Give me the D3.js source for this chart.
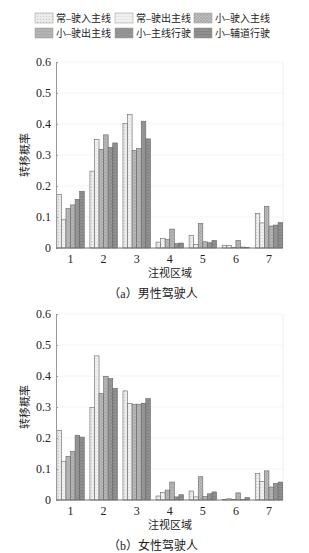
<!DOCTYPE html>
<html>
<head>
<meta charset="utf-8">
<script src="https://cdn.jsdelivr.net/npm/d3@7"></script>
<style>
  body { margin: 0; background: #fff; }
  svg { display: block; }
  text { font-family: "Liberation Serif", "Noto Sans CJK SC", serif; fill: #222; }
</style>
</head>
<body>
<svg id="chart" width="309" height="553"></svg>
<script>
// gaze regions on the x axis
const regions = ["1", "2", "3", "4", "5", "6", "7"];
const seriesNames = ["常–驶入主线", "常–驶出主线", "小–驶入主线", "小–驶出主线", "小–主线行驶", "小–辅道行驶"];
const yTicks = [0, 0.1, 0.2, 0.3, 0.4, 0.5, 0.6];

// (a) male drivers, one array per series (regions 1..7)
const maleS1 = [0.173, 0.248, 0.402, 0.019, 0.040, 0.009, 0.111];
const maleS2 = [0.091, 0.350, 0.431, 0.031, 0.011, 0.008, 0.081];
const maleS3 = [0.127, 0.318, 0.315, 0.027, 0.079, 0.001, 0.134];
const maleS4 = [0.139, 0.365, 0.321, 0.061, 0.020, 0.024, 0.071];
const maleS5 = [0.157, 0.325, 0.409, 0.014, 0.017, 0.003, 0.074];
const maleS6 = [0.183, 0.339, 0.352, 0.016, 0.024, 0.002, 0.082];

// (b) female drivers
const femaleS1 = [0.224, 0.298, 0.352, 0.013, 0.029, 0.001, 0.085];
const femaleS2 = [0.125, 0.465, 0.312, 0.024, 0.010, 0.004, 0.060];
const femaleS3 = [0.141, 0.344, 0.309, 0.032, 0.075, 0.002, 0.094];
const femaleS4 = [0.157, 0.399, 0.309, 0.058, 0.011, 0.023, 0.042];
const femaleS5 = [0.209, 0.392, 0.312, 0.010, 0.020, 0.002, 0.053];
const femaleS6 = [0.203, 0.360, 0.327, 0.017, 0.026, 0.008, 0.058];

const svg = d3.select("#chart");
const defs = svg.append("defs");

// grey fills with a light texture, like the print
const fills = [
  { base: "#ebebeb", mark: "#c8c8c8", kind: "dots" },
  { base: "#f0f0f0", mark: "#e0e0e0", kind: "lines" },
  { base: "#bdbdbd", mark: "#a2a2a2", kind: "cross" },
  { base: "#b3b3b3", mark: "#a6a6a6", kind: "lines" },
  { base: "#9c9c9c", mark: "#858585", kind: "cross" },
  { base: "#8f8f8f", mark: "#7e7e7e", kind: "lines" }
];

fills.forEach((f, i) => {
  const p = defs.append("pattern")
    .attr("id", "fill" + i)
    .attr("patternUnits", "userSpaceOnUse")
    .attr("width", 3).attr("height", 3);
  p.append("rect").attr("width", 3).attr("height", 3).attr("fill", f.base);
  if (f.kind === "dots") {
    p.append("rect").attr("x", 1).attr("y", 1).attr("width", 1).attr("height", 1).attr("fill", f.mark);
  } else if (f.kind === "cross") {
    p.append("path").attr("d", "M0,0L3,3M3,0L0,3").attr("stroke", f.mark).attr("stroke-width", 0.6);
  } else {
    p.append("path").attr("d", "M0,1.5L3,1.5").attr("stroke", f.mark).attr("stroke-width", 0.6);
  }
});

// legend at the top
const legend = svg.append("g");
seriesNames.forEach((name, i) => {
  const col = i % 3, row = Math.floor(i / 3);
  const lx = [35, 115, 194][col], ly = 13 + row * 15;
  legend.append("rect")
    .attr("x", lx).attr("y", ly)
    .attr("width", 18).attr("height", 10)
    .attr("fill", "url(#fill" + i + ")")
    .attr("stroke", "#999").attr("stroke-width", 0.5);
  legend.append("text")
    .attr("x", lx + 21).attr("y", ly + 9)
    .style("font-size", "10px")
    .text(name);
});

function drawPanel(series, top, caption) {
  const x0 = d3.scaleBand().domain(regions).range([54, 285.5]).paddingInner(0.17).paddingOuter(0.085);
  const x1 = d3.scaleBand().domain(d3.range(seriesNames.length)).range([0, x0.bandwidth()]);
  const y = d3.scaleLinear().domain([0, 0.6]).range([top + 186, top]);

  const g = svg.append("g");

  // faint grid and frame
  g.selectAll(".grid")
    .data(yTicks.slice(1))
    .enter().append("line")
    .attr("x1", 56).attr("x2", 283)
    .attr("y1", d => y(d)).attr("y2", d => y(d))
    .attr("stroke", "#f3f3f3").attr("stroke-width", 0.8);
  g.append("line")
    .attr("x1", 283).attr("x2", 283)
    .attr("y1", y(0.6)).attr("y2", y(0))
    .attr("stroke", "#eeeeee");

  series.forEach((vals, si) => {
    g.selectAll(".bar" + si)
      .data(vals)
      .enter().append("rect")
      .attr("x", (d, i) => x0(regions[i]) + x1(si))
      .attr("y", d => y(d))
      .attr("width", x1.bandwidth())
      .attr("height", d => y(0) - y(d))
      .attr("fill", "url(#fill" + si + ")")
      .attr("stroke", "#666")
      .attr("stroke-width", 0.6);
  });

  // y axis
  const yAxis = g.append("g")
    .attr("transform", "translate(56,0)")
    .call(d3.axisRight(y).tickValues(yTicks).tickSize(2).tickFormat(d => d === 0 ? "0" : d3.format(".1f")(d)));
  yAxis.select(".domain").attr("stroke", "#999");
  yAxis.selectAll(".tick line").attr("stroke", "#999");
  yAxis.selectAll(".tick text")
    .attr("x", -5)
    .attr("text-anchor", "end")
    .style("font-size", "12px")
    .style("font-family", "Liberation Serif, serif");

  // x axis
  const xAxis = g.append("g")
    .attr("transform", "translate(0," + y(0) + ")")
    .call(d3.axisBottom(x0).tickSize(0).tickPadding(6));
  xAxis.select(".domain").attr("d", "M56,0H283").attr("stroke", "#777").attr("stroke-width", 1.2);
  xAxis.selectAll(".tick text")
    .style("font-size", "12px")
    .style("font-family", "Liberation Serif, serif");

  g.append("text")
    .attr("transform", "translate(29," + (top + 93) + ") rotate(-90)")
    .attr("text-anchor", "middle")
    .style("font-size", "11px")
    .text("转移概率");

  g.append("text")
    .attr("x", 170).attr("y", top + 215)
    .attr("text-anchor", "middle")
    .style("font-size", "11px")
    .text("注视区域");

  g.append("text")
    .attr("x", 153).attr("y", top + 236)
    .attr("text-anchor", "middle")
    .style("font-size", "12px")
    .text(caption);
}

drawPanel([maleS1, maleS2, maleS3, maleS4, maleS5, maleS6], 62, "（a）男性驾驶人");
drawPanel([femaleS1, femaleS2, femaleS3, femaleS4, femaleS5, femaleS6], 314, "（b）女性驾驶人");
</script>
</body>
</html>
